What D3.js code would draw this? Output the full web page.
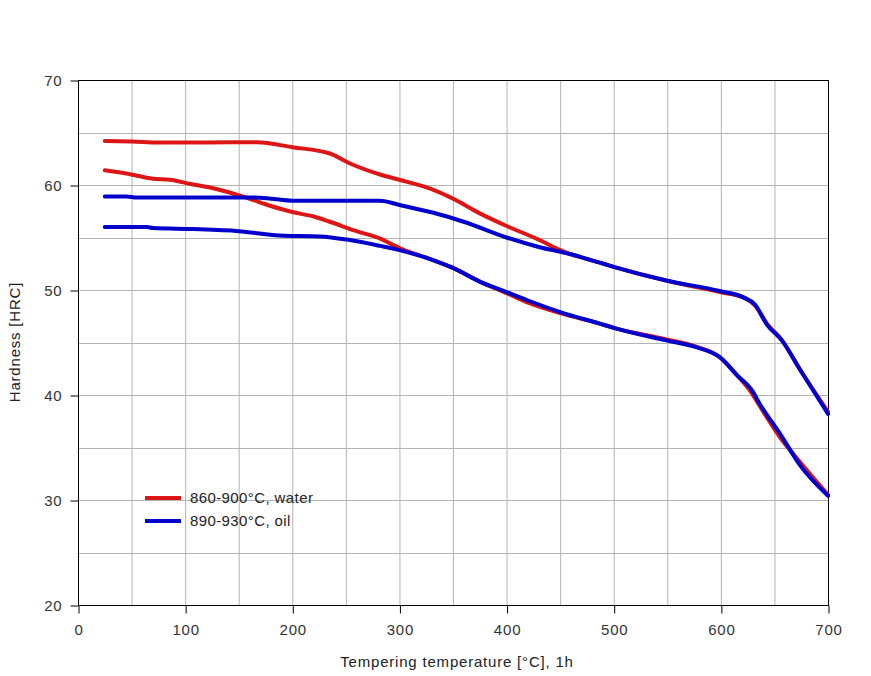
<!DOCTYPE html>
<html><head><meta charset="utf-8">
<script src="https://cdn.jsdelivr.net/npm/d3@7"></script>
<style>body{margin:0;background:#fff;} text{font-family:"Liberation Sans",Arial,sans-serif;}</style>
</head><body>
<svg id="c" width="871" height="676"></svg>
<script>
const xTicks = [0,100,200,300,400,500,600,700];
const yTicks = [20,30,40,50,60,70];
const seriesNames = ["860-900°C, water","890-930°C, oil"];
const seriesColors = ["#dd1515","#0000cc"];
// water: upper branch
const waterUpper = [[25,64.2],[50,64.15],[76,64.05],[120,64.05],[167,64.07],[200,63.6],[235,63.0],[255,62.0],[282,61.0],[300,60.5],[330,59.6],[350,58.7],[375,57.3],[400,56.1],[430,54.8],[450,53.8],[487,52.6],[500,52.2],[549,50.9],[599,49.8],[621,49.3],[632,48.5],[643,46.8],[657,45.2],[674,42.4],[700,38.4]];
// water: lower branch
const waterLower = [[25,61.4],[45,61.1],[70,60.6],[86,60.5],[105,60.1],[130,59.6],[157,58.8],[180,58.0],[201,57.4],[220,57.0],[235,56.5],[260,55.6],[282,54.9],[300,54.0],[330,52.9],[350,52.1],[375,50.8],[400,49.7],[420,48.8],[450,47.8],[487,46.8],[500,46.4],[549,45.3],[577,44.6],[599,43.6],[615,41.9],[628,40.3],[636,39.0],[655,36.0],[674,33.6],[700,30.5]];
// oil: upper branch
const oilUpper = [[25,58.9],[45,58.9],[55,58.8],[120,58.8],[165,58.8],[180,58.7],[200,58.5],[250,58.5],[282,58.5],[300,58.1],[330,57.4],[360,56.5],[400,55.0],[430,54.1],[460,53.4],[487,52.6],[500,52.2],[549,50.9],[599,49.9],[621,49.3],[632,48.6],[643,46.7],[657,45.2],[674,42.4],[700,38.2]];
// oil: lower branch
const oilLower = [[25,56.0],[64,56.0],[70,55.9],[107,55.8],[150,55.6],[188,55.2],[226,55.1],[251,54.8],[282,54.2],[300,53.8],[330,52.9],[350,52.1],[375,50.8],[400,49.8],[420,49.0],[450,47.9],[487,46.8],[500,46.4],[549,45.2],[577,44.55],[599,43.6],[615,41.9],[630,40.3],[636,39.2],[655,36.35],[674,33.3],[700,30.4]];

const svg = d3.select("#c");
const L=78,R=828,T=80,B=605;
const FONT = "Liberation Sans, Arial, sans-serif";
const x = d3.scaleLinear().domain([0,700]).range([L,R]);
const y = d3.scaleLinear().domain([20,70]).range([B,T]);

// grid
const g = svg.append("g");
g.selectAll("line.v").data(d3.range(50,700,50)).join("line")
 .attr("x1",d=>x(d)+0.5).attr("x2",d=>x(d)+0.5).attr("y1",T).attr("y2",B)
 .attr("stroke","#b4b4b4").attr("stroke-width",1);
g.selectAll("line.h").data(d3.range(25,70,5)).join("line")
 .attr("y1",d=>Math.round(y(d))+0.5).attr("y2",d=>Math.round(y(d))+0.5).attr("x1",L).attr("x2",R)
 .attr("stroke","#b4b4b4").attr("stroke-width",1);
// border
svg.append("rect").attr("x",L+0.5).attr("y",T+0.5).attr("width",R-L).attr("height",B-T)
 .attr("fill","none").attr("stroke","#000").attr("stroke-width",1);

// axes
const xa = svg.append("g").attr("transform",`translate(0.5,${B+0.5})`)
 .call(d3.axisBottom(x).tickValues(xTicks).tickSize(8).tickPadding(11).tickFormat(d3.format("d")));
const ya = svg.append("g").attr("transform",`translate(${L+0.5},0.5)`)
 .call(d3.axisLeft(y).tickValues(yTicks).tickSize(8).tickPadding(8).tickFormat(d3.format("d")));
[xa,ya].forEach(a=>{a.select(".domain").remove();
 a.selectAll("text").attr("font-size",15).attr("fill","#333").attr("font-family",FONT).attr("letter-spacing","0.8px");
 a.selectAll("line").attr("stroke","#000");});

// lines
const line = d3.line().x(d=>x(d[0])).y(d=>y(d[1])).curve(d3.curveMonotoneX);
const data = [[waterUpper,0],[waterLower,0],[oilUpper,1],[oilLower,1]];
svg.selectAll("path.s").data(data).join("path")
 .attr("d",d=>line(d[0])).attr("fill","none")
 .attr("stroke",d=>seriesColors[d[1]]).attr("stroke-width",4)
 .attr("stroke-linejoin","round").attr("stroke-linecap","round");

// legend
const lg = svg.append("g");
seriesNames.forEach((n,i)=>{
 const yy = 498 + i*23;
 lg.append("line").attr("x1",145).attr("x2",181).attr("y1",yy).attr("y2",yy)
  .attr("stroke",seriesColors[i]).attr("stroke-width",4);
 lg.append("text").attr("x",190).attr("y",yy+5).attr("font-size",15).attr("letter-spacing","0.4px")
  .attr("fill","#222").text(n);
});

// axis titles
svg.append("text").attr("x",457).attr("y",667).attr("text-anchor","middle")
 .attr("font-size",15).attr("letter-spacing","0.8px").attr("fill","#222").text("Tempering temperature [°C], 1h");
svg.append("text").attr("transform","translate(20,342) rotate(-90)").attr("text-anchor","middle")
 .attr("font-size",15).attr("letter-spacing","0.8px").attr("fill","#222").text("Hardness [HRC]");
</script>
</body></html>
